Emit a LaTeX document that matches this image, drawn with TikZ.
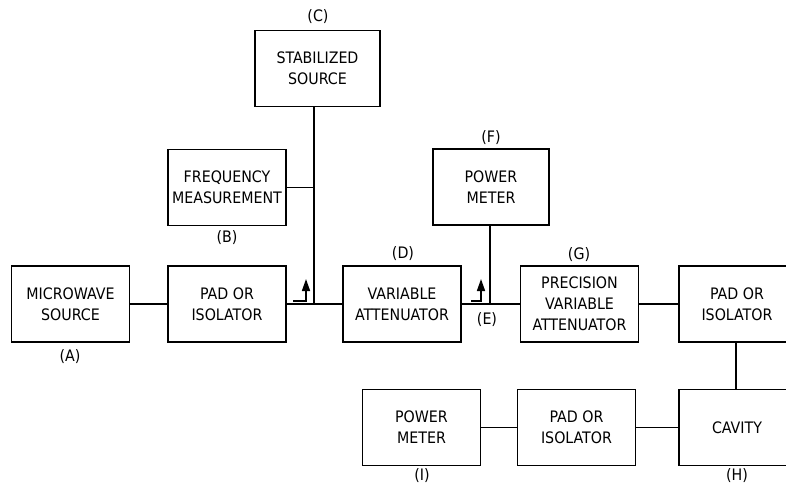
\documentclass[tikz,border=0pt]{standalone}
\usepackage{fontspec}
\setmainfont{DejaVu Sans Condensed}
\usetikzlibrary{arrows.meta}
\tikzset{
  blk/.style={draw, line width=1.9pt, minimum width=118pt, minimum height=76pt, align=center, inner sep=0pt, font=\fontsize{15.8}{21}\selectfont},
  lbl/.style={inner sep=0pt, font=\fontsize{15.8}{21}\selectfont},
  wire/.style={line width=1.6pt},
  cpl/.style={line width=1.6pt, -{Triangle[width=8pt,length=12pt]}}
}
\begin{document}
\begin{tikzpicture}[x=1pt,y=-1pt]
\clip (0,0) rectangle (786,483);
% main row
\node[blk] (A) at (70.5,304) {MICROWAVE\\SOURCE};
\node[blk] (P1) at (227,304) {PAD OR\\ISOLATOR};
\node[blk] (D) at (402,304) {VARIABLE\\ATTENUATOR};
\node[blk] (G) at (579.5,304) {PRECISION\\VARIABLE\\ATTENUATOR};
\node[blk, minimum width=116pt] (P2) at (737,304) {PAD OR\\ISOLATOR};
% upper
\node[blk, minimum width=125pt] (C) at (317.5,68.5) {STABILIZED\\SOURCE};
\node[blk] (B) at (227,187.5) {FREQUENCY\\MEASUREMENT};
\node[blk, minimum width=116pt] (F) at (491,187) {POWER\\METER};
% bottom row
\node[blk, minimum width=116pt] (H) at (737,427.5) {CAVITY};
\node[blk] (P3) at (576.5,427.5) {PAD OR\\ISOLATOR};
\node[blk] (I) at (421.5,427.5) {POWER\\METER};
% labels
\node[lbl] (la) at (70,357) {(A)};
\node[lbl] (lb) at (227,238) {(B)};
\node[lbl] (lc) at (318,17) {(C)};
\node[lbl] (ld) at (403,254) {(D)};
\node[lbl] (le) at (487,320) {(E)};
\node[lbl] (lf) at (491,138) {(F)};
\node[lbl] (lg) at (579,255) {(G)};
\node[lbl] (lh) at (737,476) {(H)};
\node[lbl] (li) at (422,476) {(I)};
% junctions
\coordinate (j1) at (314,304);
\coordinate (j2) at (490,304);
% connectors
\draw[wire] (A.east) -- (P1.west);
\draw[wire] (P1.east) -- (D.west);
\draw[wire] (C.south -| j1) -- (j1);
\draw[wire] (B.east) -- (B.east -| j1);
\draw[wire] (D.east) -- (G.west);
\draw[wire] (F.south -| j2) -- (j2);
\draw[wire] (G.east) -- (P2.west);
\draw[wire] (P2.south -| 736,0) -- (H.north -| 736,0);
\draw[wire] (H.west) -- (P3.east);
\draw[wire] (P3.west) -- (I.east);
% coupler arrows
\coordinate (c1) at (293,301);
\coordinate (c2) at (471,301);
\draw[cpl] (c1) -- ++(13,0) -- ++(0,-22);
\draw[cpl] (c2) -- ++(10,0) -- ++(0,-22);
\end{tikzpicture}
\end{document}
